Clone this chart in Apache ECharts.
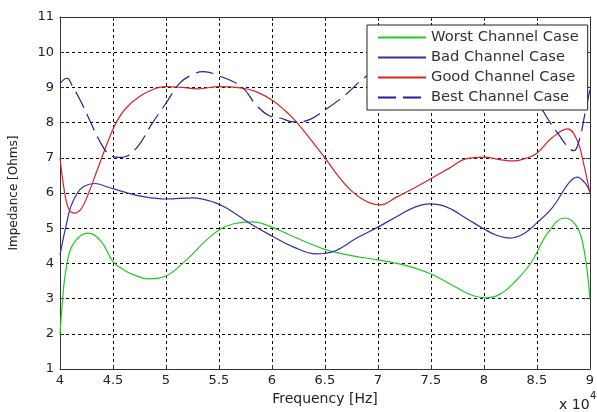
<!DOCTYPE html>
<html>
<head>
<meta charset="utf-8">
<script src="https://cdn.jsdelivr.net/npm/echarts@6/dist/echarts.min.js"></script>
<style>
  html, body { margin: 0; padding: 0; background: #fff; }
  #chart { width: 597px; height: 412px; }
</style>
</head>
<body>
<div id="chart"></div>
<script>
// Frequency values in units of 1e4 Hz
const xTicks = ["4", "4.5", "5", "5.5", "6", "6.5", "7", "7.5", "8", "8.5", "9"];
const yTicks = ["1", "2", "3", "4", "5", "6", "7", "8", "9", "10", "11"];
const seriesNames = ["Worst Channel Case", "Bad Channel Case", "Good Channel Case", "Best Channel Case"];

const worstX = [4.0, 4.02, 4.05, 4.1, 4.18, 4.27, 4.39, 4.5, 4.61, 4.71, 4.83, 5.0, 5.2, 5.38, 5.5, 5.63, 5.82, 6.0, 6.25, 6.5, 6.75, 7.0, 7.25, 7.5, 7.75, 7.9, 8.02, 8.15, 8.3, 8.45, 8.6, 8.76, 8.88, 8.95, 9.0];
const worstY = [2.0, 2.8, 3.7, 4.4, 4.75, 4.86, 4.62, 4.05, 3.8, 3.66, 3.56, 3.64, 4.12, 4.66, 4.95, 5.12, 5.18, 5.03, 4.7, 4.4, 4.22, 4.1, 3.95, 3.7, 3.3, 3.08, 3.02, 3.12, 3.5, 4.04, 4.85, 5.29, 5.03, 4.3, 3.0];

const badX = [4.0, 4.03, 4.06, 4.1, 4.16, 4.22, 4.33, 4.45, 4.6, 4.8, 5.0, 5.25, 5.45, 5.6, 5.8, 6.0, 6.2, 6.42, 6.6, 6.8, 7.0, 7.2, 7.35, 7.49, 7.65, 7.85, 8.0, 8.12, 8.25, 8.38, 8.5, 8.65, 8.8, 8.88, 8.95, 9.0];
const badY = [4.24, 4.7, 5.1, 5.6, 5.98, 6.18, 6.27, 6.17, 6.03, 5.89, 5.83, 5.86, 5.74, 5.52, 5.12, 4.78, 4.47, 4.27, 4.36, 4.72, 5.03, 5.37, 5.6, 5.69, 5.6, 5.25, 4.98, 4.8, 4.72, 4.85, 5.15, 5.6, 6.28, 6.45, 6.3, 6.05];

const goodX = [4.0, 4.05, 4.09, 4.13, 4.2, 4.27, 4.34, 4.41, 4.47, 4.53, 4.62, 4.75, 4.9, 5.0, 5.15, 5.3, 5.5, 5.72, 5.85, 6.0, 6.12, 6.23, 6.37, 6.5, 6.62, 6.74, 6.88, 7.02, 7.18, 7.33, 7.49, 7.67, 7.83, 8.0, 8.15, 8.29, 8.4, 8.5, 8.64, 8.79, 8.88, 8.94, 9.0];
const goodY = [7.0, 5.9, 5.5, 5.43, 5.55, 6.0, 6.56, 7.13, 7.6, 8.0, 8.4, 8.74, 8.97, 9.02, 9.0, 8.96, 9.02, 8.98, 8.88, 8.64, 8.35, 8.02, 7.5, 7.0, 6.5, 6.09, 5.78, 5.66, 5.89, 6.12, 6.39, 6.7, 6.97, 7.02, 6.95, 6.91, 6.99, 7.13, 7.56, 7.82, 7.5, 6.85, 6.0];

const bestX = [4.0, 4.065, 4.12, 4.19, 4.28, 4.37, 4.47, 4.58, 4.72, 4.87, 5.0, 5.13, 5.24, 5.35, 5.5, 5.72, 5.85, 5.97, 6.08, 6.2, 6.32, 6.5, 6.69, 6.87, 7.1, 7.4, 7.7, 8.0, 8.25, 8.5, 8.63, 8.72, 8.8, 8.85, 8.9, 8.95, 9.0];
const bestY = [9.12, 9.26, 9.02, 8.64, 8.07, 7.5, 7.08, 7.01, 7.27, 7.98, 8.55, 9.12, 9.35, 9.45, 9.33, 9.0, 8.5, 8.2, 8.13, 8.02, 8.05, 8.36, 8.78, 9.27, 9.7, 9.95, 9.9, 9.6, 9.1, 8.55, 7.98, 7.6, 7.28, 7.2, 7.5, 8.2, 8.93];

function pairs(xs, ys) { return xs.map((x, i) => [x, ys[i]]); }

const FONT = "DejaVu Sans";
const chart = echarts.init(document.getElementById('chart'), null, { renderer: 'canvas' });

const gridLine = { show: true, lineStyle: { color: '#000', type: [3, 3], width: 1 } };
const axisLineStyle = { show: true, onZero: false, lineStyle: { color: '#333', width: 1 } };

const option = {
  backgroundColor: '#fff',
  animation: false,
  grid: { left: 58, right: 1, top: 17, bottom: 43, containLabel: false },
  xAxis: [{
    type: 'value', min: 4, max: 9, interval: 0.5,
    name: 'Frequency [Hz]', nameLocation: 'middle', nameGap: 21,
    nameTextStyle: { fontFamily: FONT, fontSize: 14, color: '#222' },
    axisLine: axisLineStyle,
    axisTick: { show: true, inside: true, length: 4, lineStyle: { color: '#333' } },
    axisLabel: { fontFamily: FONT, fontSize: 13, color: '#222', margin: 5,
      formatter: (v) => xTicks[Math.round((v - 4) / 0.5)] },
    splitLine: gridLine
  }, {
    type: 'value', min: 4, max: 9, interval: 0.5, position: 'top',
    axisLine: axisLineStyle,
    axisTick: { show: true, inside: true, length: 4, lineStyle: { color: '#333' } },
    axisLabel: { show: false }, splitLine: { show: false }
  }],
  yAxis: [{
    type: 'value', min: 1, max: 11, interval: 1,
    name: 'Impedance [Ohms]', nameLocation: 'middle', nameGap: 40, nameRotate: 90,
    nameTextStyle: { fontFamily: FONT, fontSize: 12, color: '#222' },
    axisLine: axisLineStyle,
    axisTick: { show: true, inside: true, length: 4, lineStyle: { color: '#333' } },
    axisLabel: { fontFamily: FONT, fontSize: 13, color: '#222', margin: 6,
      formatter: (v) => yTicks[Math.round(v - 1)] },
    splitLine: gridLine
  }, {
    type: 'value', min: 1, max: 11, interval: 1, position: 'right',
    axisLine: axisLineStyle,
    axisTick: { show: true, inside: true, length: 4, lineStyle: { color: '#333' } },
    axisLabel: { show: false }, splitLine: { show: false }
  }],
  legend: {
    orient: 'vertical', left: 367, top: 25,
    padding: [5, 9, 5, 10],
    itemWidth: 48, itemHeight: 14, itemGap: 5,
    backgroundColor: '#fff', borderColor: '#222', borderWidth: 1,
    textStyle: { fontFamily: FONT, fontSize: 14.7, color: '#333', lineHeight: 14 },
    itemStyle: { opacity: 0 },
    data: seriesNames
  },
  series: [
    { name: seriesNames[0], type: 'line', data: pairs(worstX, worstY), smooth: 0.4, symbol: 'none',
      lineStyle: { color: '#22c922', width: 1.2 }, itemStyle: { color: '#22c922' }, z: 3 },
    { name: seriesNames[1], type: 'line', data: pairs(badX, badY), smooth: 0.4, symbol: 'none',
      lineStyle: { color: '#3030b0', width: 1.2 }, itemStyle: { color: '#3030b0' }, z: 3 },
    { name: seriesNames[2], type: 'line', data: pairs(goodX, goodY), smooth: 0.4, symbol: 'none',
      lineStyle: { color: '#dd2222', width: 1.2 }, itemStyle: { color: '#dd2222' }, z: 3 },
    { name: seriesNames[3], type: 'line', data: pairs(bestX, bestY), smooth: 0.4, symbol: 'none',
      lineStyle: { color: '#20209a', width: 1.2, type: [18, 7] }, itemStyle: { color: '#20209a' }, z: 3 }
  ],
  graphic: [
    { type: 'text', left: 559, top: 398, style: { text: 'x 10', font: '14px "DejaVu Sans"', fill: '#222' } },
    { type: 'text', left: 590, top: 391, style: { text: '4', font: '10px "DejaVu Sans"', fill: '#222' } }
  ]
};
chart.setOption(option);
</script>
</body>
</html>
